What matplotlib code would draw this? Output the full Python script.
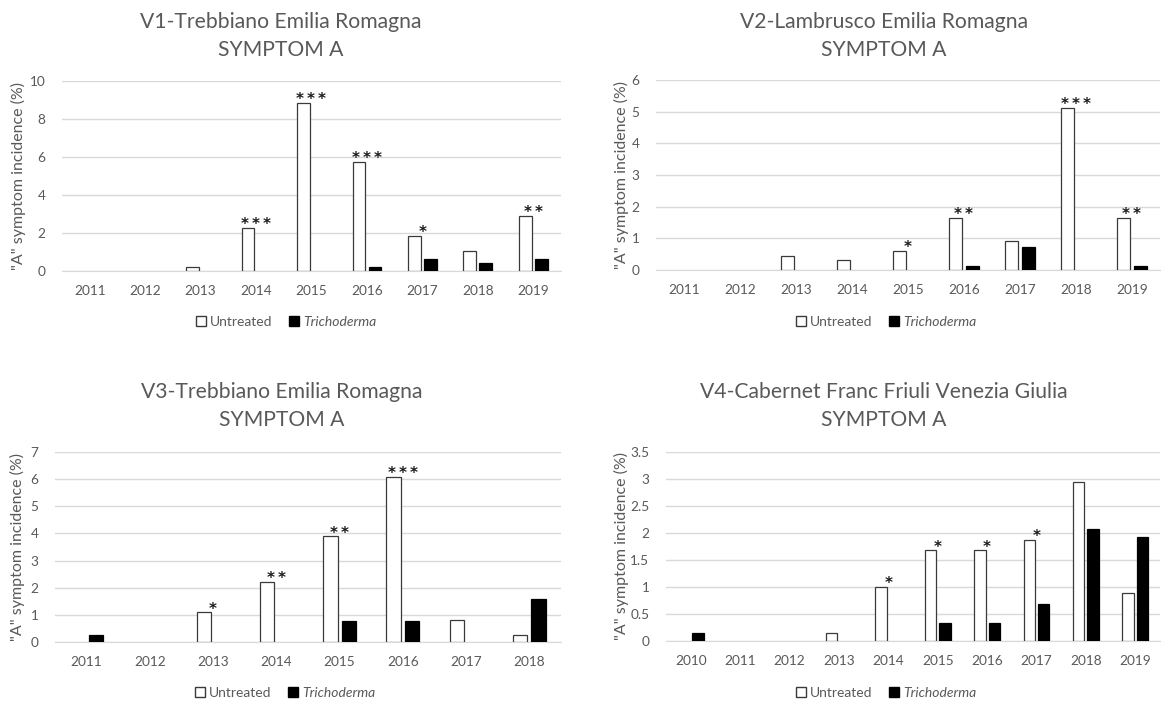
import numpy as np
import matplotlib.pyplot as plt
from matplotlib.patches import Patch

plt.rcParams['font.family'] = ['Lato', 'DejaVu Sans']

# ---- data ----
v1_years = ['2011', '2012', '2013', '2014', '2015', '2016', '2017', '2018', '2019']
v1_untreated = [0, 0, 0.21, 2.28, 8.86, 5.75, 1.86, 1.04, 2.91]
v1_tricho = [0, 0, 0, 0, 0, 0.21, 0.61, 0.44, 0.61]
v1_stars = ['', '', '', '***', '***', '***', '*', '', '**']

v2_years = ['2011', '2012', '2013', '2014', '2015', '2016', '2017', '2018', '2019']
v2_untreated = [0, 0, 0.45, 0.31, 0.61, 1.65, 0.91, 5.13, 1.65]
v2_tricho = [0, 0, 0, 0, 0, 0.14, 0.73, 0, 0.14]
v2_stars = ['', '', '', '', '*', '**', '', '***', '**']

v3_years = ['2011', '2012', '2013', '2014', '2015', '2016', '2017', '2018']
v3_untreated = [0, 0, 1.1, 2.21, 3.89, 6.08, 0.81, 0.27]
v3_tricho = [0.27, 0, 0, 0, 0.79, 0.79, 0, 1.57]
v3_stars = ['', '', '*', '**', '**', '***', '', '']

v4_years = ['2010', '2011', '2012', '2013', '2014', '2015', '2016', '2017', '2018', '2019']
v4_untreated = [0, 0, 0, 0.155, 1.0, 1.68, 1.68, 1.87, 2.94, 0.88]
v4_tricho = [0.155, 0, 0, 0, 0, 0.33, 0.33, 0.68, 2.07, 1.92]
v4_stars = ['', '', '', '', '*', '*', '*', '*', '', '']

titles = ['V1-Trebbiano Emilia Romagna', 'V2-Lambrusco Emilia Romagna',
          'V3-Trebbiano Emilia Romagna', 'V4-Cabernet Franc Friuli Venezia Giulia']
ylabel = '"A" symptom incidence (%)'

W, H = 1161, 705
GRAY = '#595959'
GRID = '#d9d9d9'

fig = plt.figure(figsize=(W / 100, H / 100), dpi=100)


def panel(box, years, untr, tri, stars, ymax, ystep, title, title_x, title_y,
          ylab_x, leg_x, leg_y):
    l, r, t, b = box
    ax = fig.add_axes([l / W, 1 - b / H, (r - l) / W, (b - t) / H])
    x = np.arange(len(years))
    w, off = 0.23, 0.145
    for i in x:
        if untr[i] > 0:
            ax.bar(i - off, untr[i], w, color='white', edgecolor='#3a3a3a',
                   linewidth=0.9, zorder=3)
        if tri[i] > 0:
            ax.bar(i + off, tri[i], w, color='black', edgecolor='black',
                   linewidth=0.9, zorder=3)
        if stars[i]:
            # spaced asterisks like the original labels
            ax.annotate('\u2009'.join(stars[i]), (i, untr[i]), xytext=(0, -1),
                        textcoords='offset points', ha='center', va='baseline',
                        fontsize=11, color='#1a1a1a', family='DejaVu Sans',
                        fontweight='bold', zorder=4)
    ax.set_xlim(-0.5, len(years) - 0.5)
    ax.set_ylim(0, ymax)
    ticks = np.arange(0, ymax + ystep / 2, ystep)
    ax.set_yticks(ticks)
    ax.set_yticklabels(['{:g}'.format(v) for v in ticks])
    ax.set_xticks(x)
    ax.set_xticklabels(years)
    ax.grid(axis='y', color=GRID, linewidth=1, zorder=0)
    ax.set_axisbelow(True)
    for s in ['top', 'right', 'left']:
        ax.spines[s].set_visible(False)
    ax.spines['bottom'].set_color(GRID)
    ax.tick_params(length=0, labelsize=9.8, labelcolor=GRAY)
    ax.tick_params(axis='y', pad=12)
    ax.tick_params(axis='x', pad=10)

    fig.text(title_x / W, 1 - title_y / H, title + '\nSYMPTOM A', ha='center',
             va='center', fontsize=15.2, color=GRAY, linespacing=1.55)
    fig.text(ylab_x / W, 1 - (t + b) / 2 / H, ylabel, rotation=90, ha='center',
             va='center', fontsize=11.5, color=GRAY)
    handles = [Patch(facecolor='white', edgecolor='#3a3a3a', label='Untreated'),
               Patch(facecolor='black', edgecolor='black', label='Trichoderma')]
    leg = fig.legend(handles=handles, loc='center', ncol=2, frameon=False,
                     bbox_to_anchor=(leg_x / W, 1 - leg_y / H), fontsize=10,
                     handlelength=0.7, handleheight=0.7, handletextpad=0.3,
                     columnspacing=1.2)
    for txt in leg.get_texts():
        txt.set_color(GRAY)
    leg.get_texts()[1].set_fontstyle('italic')
    return ax


panel((62, 561, 81, 271), v1_years, v1_untreated, v1_tricho, v1_stars, 10, 2,
      titles[0], 281, 36, 18, 286, 322)
panel((656, 1160, 80, 270), v2_years, v2_untreated, v2_tricho, v2_stars, 6, 1,
      titles[1], 884, 36, 621, 886, 322)
panel((55, 561, 452, 642), v3_years, v3_untreated, v3_tricho, v3_stars, 7, 1,
      titles[2], 282, 406, 17, 285, 693)
panel((666, 1160, 452, 641), v4_years, v4_untreated, v4_tricho, v4_stars, 3.5, 0.5,
      titles[3], 884, 406, 621, 886, 693)

fig.savefig('out.png', dpi=100, facecolor='white')
